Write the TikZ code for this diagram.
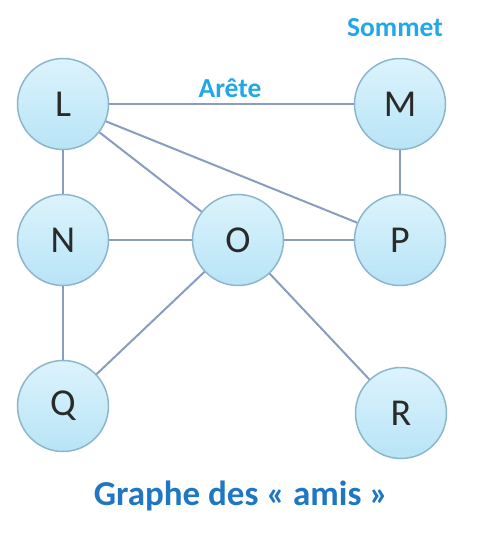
\documentclass[tikz,border=0pt]{standalone}
\usepackage{fontspec}
\setmainfont{Carlito}
\definecolor{edgec}{HTML}{8A9CC2}
\definecolor{nodefill}{HTML}{CDEEFB}
\definecolor{nodefillb}{HTML}{B8E4F7}
\definecolor{nodeline}{HTML}{8DB6C9}
\definecolor{lblc}{HTML}{22A8E6}
\definecolor{titlec}{HTML}{1F77C4}
\definecolor{letterc}{HTML}{2A2A2A}
\begin{document}
\begin{tikzpicture}[x=1pt,y=-1pt,
  vertex/.style={circle, draw=nodeline, line width=1.5pt, top color=nodefill!70!white, bottom color=nodefillb, minimum size=91pt, inner sep=0pt, text=letterc, font=\fontsize{38}{42}\selectfont},
  edge/.style={draw=edgec, line width=2pt},
  lbl/.style={text=lblc, font=\fontsize{27.5}{31}\selectfont\bfseries}]
\useasboundingbox (0,0) rectangle (478,539);
\node[vertex] (L) at (63,104) {L};
\node[vertex] (M) at (400,104) {M};
\node[vertex] (N) at (63,240) {N};
\node[vertex] (O) at (238,240) {O};
\node[vertex] (P) at (400,240) {P};
\node[vertex] (Q) at (63,406) {Q};
\node[vertex] (R) at (401,413) {R};
\path[edge] (L) -- (M);
\path[edge] (L) -- (N);
\path[edge] (L) -- (O);
\path[edge] (L) -- (P);
\path[edge] (M) -- (P);
\path[edge] (N) -- (O);
\path[edge] (O) -- (P);
\path[edge] (N) -- (Q);
\path[edge] (O) -- (Q);
\path[edge] (O) -- (R);
\node[lbl] (som) at (395,28) {Sommet};
\node[lbl] (are) at (230,88) {Arête};
\node[text=titlec, font=\fontsize{35}{39}\selectfont\bfseries] (title) at (241,496) {Graphe des « amis »};
\end{tikzpicture}
\end{document}
